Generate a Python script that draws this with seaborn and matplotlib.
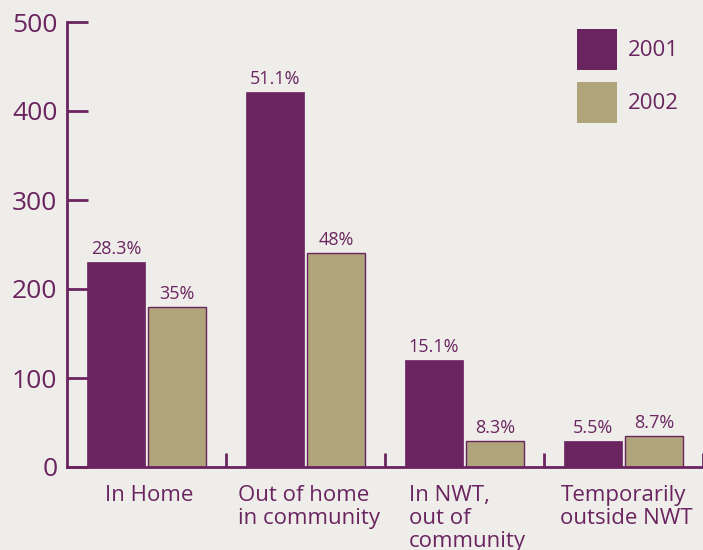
import pandas as pd
import matplotlib
matplotlib.use('Agg')
import matplotlib.pyplot as plt
import seaborn as sns

# data
categories = ['In Home', 'Out of home\nin community', 'In NWT,\nout of\ncommunity',
              'Temporarily\noutside NWT']
years = ['2001', '2002']
counts_2001 = [230, 421, 120, 29]
counts_2002 = [180, 240, 29, 35]
pct_2001 = ['28.3%', '51.1%', '15.1%', '5.5%']
pct_2002 = ['35%', '48%', '8.3%', '8.7%']

purple = '#6A2460'
tan = '#B0A57A'
bg = '#EFEDE9'

df = pd.DataFrame({
    'category': categories * 2,
    'count': counts_2001 + counts_2002,
    'year': [years[0]] * 4 + [years[1]] * 4,
})

sns.set_style('white')
plt.rcParams['font.family'] = ['Open Sans', 'DejaVu Sans']

fig = plt.figure(figsize=(7.03, 5.5), dpi=100, facecolor=bg)
ax = fig.add_axes([67 / 703, 83 / 550, 636 / 703, 445 / 550])
ax.set_facecolor(bg)

sns.barplot(data=df, x='category', y='count', hue='year', palette=[purple, tan],
            saturation=1, width=0.767, gap=0.05, ax=ax, legend=True)

# no edge on the purple bars, thin purple outline on the tan ones
for p in ax.containers[0]:
    p.set_edgecolor(purple)
    p.set_linewidth(0.5)
for p in ax.containers[1]:
    p.set_edgecolor(purple)
    p.set_linewidth(1)

# percentage labels
for cont, labs in zip(ax.containers, [pct_2001, pct_2002]):
    ax.bar_label(cont, labels=labs, padding=3, color=purple, fontsize=13)

ax.set_xlim(-0.5, 3.5)
ax.set_ylim(0, 500)
ax.set_yticks([0, 100, 200, 300, 400, 500])
ax.set_xticks([0.5, 1.5, 2.5, 3.5])
ax.set_xticklabels([])
ax.set_xlabel('')
ax.set_ylabel('')

ax.tick_params(axis='y', direction='in', length=15, width=2, color=purple,
               labelcolor=purple, labelsize=19, pad=7, left=True)
ax.tick_params(axis='x', direction='in', length=10, width=2, color=purple, bottom=True)

for side in ['top', 'right']:
    ax.spines[side].set_visible(False)
for side in ['left', 'bottom']:
    ax.spines[side].set_color(purple)
    ax.spines[side].set_linewidth(2)

# category labels under each group
for i, cat in enumerate(categories):
    ax.text(i + 0.02, -20, cat, ha='center', va='top', multialignment='left',
            color=purple, fontsize=16, linespacing=1.12)

# legend as squares with year labels
handles = [ax.containers[0][0], ax.containers[1][0]]
leg = ax.legend(handles, years, loc='upper left', bbox_to_anchor=(0.802, 0.985),
                frameon=False, fontsize=16, handlelength=1.8, handleheight=2.45,
                handletextpad=0.5, labelspacing=0.55, borderpad=0, borderaxespad=0)
for t in leg.get_texts():
    t.set_color(purple)
for h in leg.legend_handles:
    h.set_edgecolor('none')

fig.savefig('out.png', dpi=100, facecolor=bg)
